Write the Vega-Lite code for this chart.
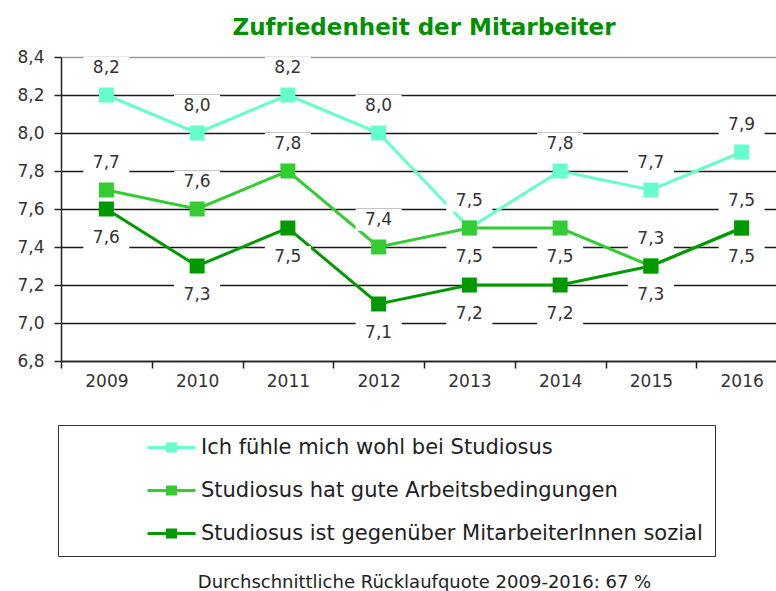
{
  "$schema": "https://vega.github.io/schema/vega-lite/v6.json",
  "width": 726,
  "height": 304,
  "padding": {"left": 16, "top": 17, "right": 0, "bottom": 0},
  "background": "white",
  "title": {
    "text": "Zufriedenheit der Mitarbeiter",
    "font": "DejaVu Sans",
    "fontSize": 23,
    "fontWeight": "bold",
    "color": "#009000",
    "offset": 8,
    "frame": "group",
    "anchor": "middle"
  },
  "config": {
    "locale": {"number": {"decimal": ",", "thousands": ".", "grouping": [3], "currency": ["", " €"]}},
    "view": {"stroke": null}
  },
  "data": {
    "values": [
      {"year": "2009", "k": "A", "s": "Ich fühle mich wohl bei Studiosus", "v": 8.2},
      {"year": "2010", "k": "A", "s": "Ich fühle mich wohl bei Studiosus", "v": 8.0},
      {"year": "2011", "k": "A", "s": "Ich fühle mich wohl bei Studiosus", "v": 8.2},
      {"year": "2012", "k": "A", "s": "Ich fühle mich wohl bei Studiosus", "v": 8.0},
      {"year": "2013", "k": "A", "s": "Ich fühle mich wohl bei Studiosus", "v": 7.5},
      {"year": "2014", "k": "A", "s": "Ich fühle mich wohl bei Studiosus", "v": 7.8},
      {"year": "2015", "k": "A", "s": "Ich fühle mich wohl bei Studiosus", "v": 7.7},
      {"year": "2016", "k": "A", "s": "Ich fühle mich wohl bei Studiosus", "v": 7.9},
      {"year": "2009", "k": "B", "s": "Studiosus hat gute Arbeitsbedingungen", "v": 7.7},
      {"year": "2010", "k": "B", "s": "Studiosus hat gute Arbeitsbedingungen", "v": 7.6},
      {"year": "2011", "k": "B", "s": "Studiosus hat gute Arbeitsbedingungen", "v": 7.8},
      {"year": "2012", "k": "B", "s": "Studiosus hat gute Arbeitsbedingungen", "v": 7.4},
      {"year": "2013", "k": "B", "s": "Studiosus hat gute Arbeitsbedingungen", "v": 7.5},
      {"year": "2014", "k": "B", "s": "Studiosus hat gute Arbeitsbedingungen", "v": 7.5},
      {"year": "2015", "k": "B", "s": "Studiosus hat gute Arbeitsbedingungen", "v": 7.3},
      {"year": "2016", "k": "B", "s": "Studiosus hat gute Arbeitsbedingungen", "v": 7.5},
      {"year": "2009", "k": "C", "s": "Studiosus ist gegenüber MitarbeiterInnen sozial", "v": 7.6},
      {"year": "2010", "k": "C", "s": "Studiosus ist gegenüber MitarbeiterInnen sozial", "v": 7.3},
      {"year": "2011", "k": "C", "s": "Studiosus ist gegenüber MitarbeiterInnen sozial", "v": 7.5},
      {"year": "2012", "k": "C", "s": "Studiosus ist gegenüber MitarbeiterInnen sozial", "v": 7.1},
      {"year": "2013", "k": "C", "s": "Studiosus ist gegenüber MitarbeiterInnen sozial", "v": 7.2},
      {"year": "2014", "k": "C", "s": "Studiosus ist gegenüber MitarbeiterInnen sozial", "v": 7.2},
      {"year": "2015", "k": "C", "s": "Studiosus ist gegenüber MitarbeiterInnen sozial", "v": 7.3},
      {"year": "2016", "k": "C", "s": "Studiosus ist gegenüber MitarbeiterInnen sozial", "v": 7.5}
    ]
  },
  "encoding": {
    "x": {
      "field": "year",
      "type": "ordinal",
      "scale": {"type": "band", "paddingInner": 0, "paddingOuter": 0},
      "axis": {
        "title": "Durchschnittliche Rücklaufquote 2009-2016: 67 %",
        "titleFont": "DejaVu Sans",
        "titleFontSize": 18,
        "titleFontWeight": "normal",
        "titleColor": "#222",
        "titlePadding": 184,
        "labelAngle": 0,
        "labelFont": "DejaVu Sans",
        "labelFontSize": 17,
        "labelColor": "#333",
        "labelPadding": 5,
        "tickBand": "extent",
        "tickSize": 7,
        "tickWidth": 1.5,
        "tickColor": "#222",
        "domainColor": "#222",
        "domainWidth": 1.5,
        "grid": false
      }
    },
    "y": {
      "field": "v",
      "type": "quantitative",
      "scale": {"domain": [6.8, 8.4], "zero": false, "nice": false},
      "axis": {
        "title": null,
        "values": [6.8, 7.0, 7.2, 7.4, 7.6, 7.8, 8.0, 8.2, 8.4],
        "format": ".1f",
        "labelFont": "DejaVu Sans",
        "labelFontSize": 17,
        "labelColor": "#333",
        "labelPadding": 10,
        "tickSize": 7,
        "tickWidth": 1.5,
        "tickColor": "#222",
        "domainColor": "#222",
        "domainWidth": 1.5,
        "grid": true,
        "gridWidth": 1.5,
        "gridColor": {"condition": {"test": "datum.value > 8.3", "value": "#999999"}, "value": "#1a1a1a"}
      }
    }
  },
  "layer": [
    {
      "mark": {"type": "line", "strokeWidth": 3, "point": {"shape": "square", "size": 225, "filled": true, "opacity": 1}},
      "encoding": {
        "color": {
          "field": "s",
          "type": "nominal",
          "scale": {
            "domain": ["Ich fühle mich wohl bei Studiosus", "Studiosus hat gute Arbeitsbedingungen", "Studiosus ist gegenüber MitarbeiterInnen sozial"],
            "range": ["#66FFCC", "#33CC33", "#009900"]
          },
          "legend": {
            "orient": "none",
            "legendX": -3,
            "legendY": 368,
            "title": null,
            "strokeColor": "#333",
            "padding": 12,
            "rowPadding": 21,
            "symbolType": "M-2.4,-0.15H2.4V0.15H-2.4Z M-0.55,-0.5H0.55V0.5H-0.55Z",
            "symbolSize": 400,
            "symbolOffset": 91,
            "symbolStrokeWidth": 0,
            "labelOffset": 19,
            "labelFont": "DejaVu Sans",
            "labelFontSize": 21,
            "labelColor": "#222",
            "labelLimit": 1200
          }
        }
      }
    },
    {
      "transform": [{"filter": "!(datum.k == 'C' || (datum.k == 'B' && (datum.year == '2013' || datum.year == '2014')))"}],
      "mark": {"type": "point", "shape": "M-4.6,-2.2H4.6V2.2H-4.6Z", "size": 100, "filled": true, "fill": "white", "opacity": 1, "strokeWidth": 0},
      "encoding": {"yOffset": {"value": -27}}
    },
    {
      "transform": [{"filter": "datum.k == 'C' || (datum.k == 'B' && (datum.year == '2013' || datum.year == '2014'))"}],
      "mark": {"type": "point", "shape": "M-4.6,-2.2H4.6V2.2H-4.6Z", "size": 100, "filled": true, "fill": "white", "opacity": 1, "strokeWidth": 0},
      "encoding": {"yOffset": {"value": 29}}
    },
    {
      "transform": [{"filter": "!(datum.k == 'C' || (datum.k == 'B' && (datum.year == '2013' || datum.year == '2014')))"}],
      "mark": {"type": "text", "font": "DejaVu Sans", "fontSize": 17, "color": "#333", "baseline": "middle"},
      "encoding": {
        "text": {"field": "v", "type": "quantitative", "format": ".1f"},
        "yOffset": {"value": -27}
      }
    },
    {
      "transform": [{"filter": "datum.k == 'C' || (datum.k == 'B' && (datum.year == '2013' || datum.year == '2014'))"}],
      "mark": {"type": "text", "font": "DejaVu Sans", "fontSize": 17, "color": "#333", "baseline": "middle"},
      "encoding": {
        "text": {"field": "v", "type": "quantitative", "format": ".1f"},
        "yOffset": {"value": 29}
      }
    }
  ]
}
